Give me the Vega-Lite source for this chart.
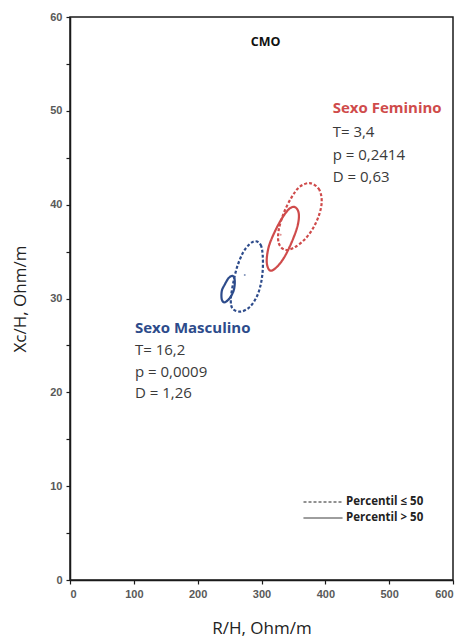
{
  "$schema": "https://vega.github.io/schema/vega-lite/v6.json",
  "width": 383,
  "height": 563,
  "autosize": {"type": "none"},
  "padding": {"left": 70, "top": 17, "right": 11, "bottom": 64},
  "background": "white",
  "config": {
    "view": {"stroke": "#1a1a1a", "strokeWidth": 1.5},
    "axis": {
      "grid": false,
      "domainColor": "#1a1a1a",
      "domainWidth": 1.5,
      "tickColor": "#1a1a1a",
      "tickWidth": 1.2,
      "tickSize": 4,
      "labelFont": "Liberation Sans",
      "labelFontWeight": "bold",
      "labelFontSize": 11,
      "labelColor": "#595959",
      "labelPadding": 4,
      "titleFont": "Open Sans",
      "titleFontWeight": "normal",
      "titleFontSize": 17,
      "titleColor": "#222222"
    }
  },
  "datasets": {
    "ellipses": [
      {"id": "FD", "sexo": "Feminino", "percentil": "Percentil ≤ 50", "i": 1, "x": 375.5, "y": 42.3},
      {"id": "FD", "sexo": "Feminino", "percentil": "Percentil ≤ 50", "i": 2, "x": 389.5, "y": 41.7},
      {"id": "FD", "sexo": "Feminino", "percentil": "Percentil ≤ 50", "i": 3, "x": 394.3, "y": 40.5},
      {"id": "FD", "sexo": "Feminino", "percentil": "Percentil ≤ 50", "i": 4, "x": 391.1, "y": 39.1},
      {"id": "FD", "sexo": "Feminino", "percentil": "Percentil ≤ 50", "i": 5, "x": 381.7, "y": 37.6},
      {"id": "FD", "sexo": "Feminino", "percentil": "Percentil ≤ 50", "i": 6, "x": 367.7, "y": 36.3},
      {"id": "FD", "sexo": "Feminino", "percentil": "Percentil ≤ 50", "i": 7, "x": 350.4, "y": 35.4},
      {"id": "FD", "sexo": "Feminino", "percentil": "Percentil ≤ 50", "i": 8, "x": 336.4, "y": 35.2},
      {"id": "FD", "sexo": "Feminino", "percentil": "Percentil ≤ 50", "i": 9, "x": 327.0, "y": 35.9},
      {"id": "FD", "sexo": "Feminino", "percentil": "Percentil ≤ 50", "i": 10, "x": 327.0, "y": 37.3},
      {"id": "FD", "sexo": "Feminino", "percentil": "Percentil ≤ 50", "i": 11, "x": 334.8, "y": 39.1},
      {"id": "FD", "sexo": "Feminino", "percentil": "Percentil ≤ 50", "i": 12, "x": 347.3, "y": 40.8},
      {"id": "FD", "sexo": "Feminino", "percentil": "Percentil ≤ 50", "i": 13, "x": 359.8, "y": 41.9},
      {"id": "FS", "sexo": "Feminino", "percentil": "Percentil > 50", "i": 1, "x": 352.0, "y": 39.75},
      {"id": "FS", "sexo": "Feminino", "percentil": "Percentil > 50", "i": 2, "x": 358.3, "y": 39.1},
      {"id": "FS", "sexo": "Feminino", "percentil": "Percentil > 50", "i": 3, "x": 356.7, "y": 37.8},
      {"id": "FS", "sexo": "Feminino", "percentil": "Percentil > 50", "i": 4, "x": 347.3, "y": 36.0},
      {"id": "FS", "sexo": "Feminino", "percentil": "Percentil > 50", "i": 5, "x": 334.8, "y": 34.3},
      {"id": "FS", "sexo": "Feminino", "percentil": "Percentil > 50", "i": 6, "x": 322.3, "y": 33.25},
      {"id": "FS", "sexo": "Feminino", "percentil": "Percentil > 50", "i": 7, "x": 312.9, "y": 33.0},
      {"id": "FS", "sexo": "Feminino", "percentil": "Percentil > 50", "i": 8, "x": 308.2, "y": 33.9},
      {"id": "FS", "sexo": "Feminino", "percentil": "Percentil > 50", "i": 9, "x": 311.3, "y": 35.5},
      {"id": "FS", "sexo": "Feminino", "percentil": "Percentil > 50", "i": 10, "x": 320.7, "y": 37.1},
      {"id": "FS", "sexo": "Feminino", "percentil": "Percentil > 50", "i": 11, "x": 331.7, "y": 38.5},
      {"id": "FS", "sexo": "Feminino", "percentil": "Percentil > 50", "i": 12, "x": 342.6, "y": 39.5},
      {"id": "MD", "sexo": "Masculino", "percentil": "Percentil ≤ 50", "i": 1, "x": 291.0, "y": 36.1},
      {"id": "MD", "sexo": "Masculino", "percentil": "Percentil ≤ 50", "i": 2, "x": 298.8, "y": 35.7},
      {"id": "MD", "sexo": "Masculino", "percentil": "Percentil ≤ 50", "i": 3, "x": 301.9, "y": 34.6},
      {"id": "MD", "sexo": "Masculino", "percentil": "Percentil ≤ 50", "i": 4, "x": 301.9, "y": 33.0},
      {"id": "MD", "sexo": "Masculino", "percentil": "Percentil ≤ 50", "i": 5, "x": 298.8, "y": 31.5},
      {"id": "MD", "sexo": "Masculino", "percentil": "Percentil ≤ 50", "i": 6, "x": 292.6, "y": 30.2},
      {"id": "MD", "sexo": "Masculino", "percentil": "Percentil ≤ 50", "i": 7, "x": 281.6, "y": 29.1},
      {"id": "MD", "sexo": "Masculino", "percentil": "Percentil ≤ 50", "i": 8, "x": 267.5, "y": 28.6},
      {"id": "MD", "sexo": "Masculino", "percentil": "Percentil ≤ 50", "i": 9, "x": 255.0, "y": 28.9},
      {"id": "MD", "sexo": "Masculino", "percentil": "Percentil ≤ 50", "i": 10, "x": 251.9, "y": 29.8},
      {"id": "MD", "sexo": "Masculino", "percentil": "Percentil ≤ 50", "i": 11, "x": 255.0, "y": 31.4},
      {"id": "MD", "sexo": "Masculino", "percentil": "Percentil ≤ 50", "i": 12, "x": 261.3, "y": 33.25},
      {"id": "MD", "sexo": "Masculino", "percentil": "Percentil ≤ 50", "i": 13, "x": 270.7, "y": 34.85},
      {"id": "MD", "sexo": "Masculino", "percentil": "Percentil ≤ 50", "i": 14, "x": 281.6, "y": 35.8},
      {"id": "MS", "sexo": "Masculino", "percentil": "Percentil > 50", "i": 1, "x": 255.0, "y": 32.4},
      {"id": "MS", "sexo": "Masculino", "percentil": "Percentil > 50", "i": 2, "x": 258.1, "y": 31.9},
      {"id": "MS", "sexo": "Masculino", "percentil": "Percentil > 50", "i": 3, "x": 256.6, "y": 30.9},
      {"id": "MS", "sexo": "Masculino", "percentil": "Percentil > 50", "i": 4, "x": 250.3, "y": 30.05},
      {"id": "MS", "sexo": "Masculino", "percentil": "Percentil > 50", "i": 5, "x": 242.5, "y": 29.6},
      {"id": "MS", "sexo": "Masculino", "percentil": "Percentil > 50", "i": 6, "x": 237.8, "y": 29.9},
      {"id": "MS", "sexo": "Masculino", "percentil": "Percentil > 50", "i": 7, "x": 237.8, "y": 30.8},
      {"id": "MS", "sexo": "Masculino", "percentil": "Percentil > 50", "i": 8, "x": 242.5, "y": 31.5},
      {"id": "MS", "sexo": "Masculino", "percentil": "Percentil > 50", "i": 9, "x": 248.8, "y": 32.2}
    ],
    "centers": [
      {"sexo": "Feminino", "x": 330.1, "y": 36.8},
      {"sexo": "Masculino", "x": 273.8, "y": 32.5}
    ],
    "headers": [
      {"sexo": "Feminino", "x": 411.5, "y": 50.3, "text": "Sexo Feminino"},
      {"sexo": "Masculino", "x": 101.7, "y": 26.86, "text": "Sexo Masculino"}
    ],
    "stats": [
      {"x": 411.5, "y": 47.74, "text": "T= 3,4"},
      {"x": 411.5, "y": 45.29, "text": "p = 0,2414"},
      {"x": 411.5, "y": 42.95, "text": "D = 0,63"},
      {"x": 101.7, "y": 24.51, "text": "T= 16,2"},
      {"x": 101.7, "y": 22.17, "text": "p = 0,0009"},
      {"x": 101.7, "y": 19.93, "text": "D = 1,26"}
    ],
    "title": [
      {"x": 306.6, "y": 57.3, "text": "CMO"}
    ]
  },
  "layer": [
    {
      "data": {"name": "ellipses"},
      "mark": {"type": "line", "interpolate": "cardinal-closed", "strokeWidth": 2.2},
      "encoding": {
        "x": {
          "field": "x", "type": "quantitative",
          "scale": {"domain": [0, 600], "nice": false, "zero": false},
          "axis": {
            "title": "R/H, Ohm/m",
            "values": [0, 50, 100, 150, 200, 250, 300, 350, 400, 450, 500, 550, 600],
            "labelExpr": "datum.value % 100 === 0 ? datum.label : ''",
            "titlePadding": 21
          }
        },
        "y": {
          "field": "y", "type": "quantitative",
          "scale": {"domain": [0, 60], "nice": false, "zero": false},
          "axis": {
            "title": "Xc/H, Ohm/m",
            "values": [0, 5, 10, 15, 20, 25, 30, 35, 40, 45, 50, 55, 60],
            "labelExpr": "datum.value % 10 === 0 ? datum.label : ''",
            "titlePadding": 20
          }
        },
        "color": {
          "field": "sexo", "type": "nominal",
          "scale": {"domain": ["Feminino", "Masculino"], "range": ["#cf4b4b", "#2d4b8b"]},
          "legend": null
        },
        "strokeDash": {
          "field": "percentil", "type": "nominal",
          "scale": {"domain": ["Percentil ≤ 50", "Percentil > 50"], "range": [[3, 2], [1, 0]]},
          "legend": {
            "orient": "none",
            "legendX": 233,
            "legendY": 477,
            "title": null,
            "symbolType": "stroke",
            "symbolSize": 1521,
            "symbolStrokeWidth": 1,
            "symbolStrokeColor": "#222222",
            "clipHeight": 16,
            "rowPadding": 0,
            "labelOffset": 3,
            "labelFont": "Open Sans",
            "labelFontWeight": "bold",
            "labelFontSize": 11.5,
            "labelColor": "#222222"
          }
        },
        "detail": {"field": "id"},
        "order": {"field": "i", "type": "quantitative"}
      }
    },
    {
      "data": {"name": "centers"},
      "mark": {"type": "point", "filled": true, "size": 4, "opacity": 0.6},
      "encoding": {
        "x": {"field": "x", "type": "quantitative"},
        "y": {"field": "y", "type": "quantitative"},
        "color": {"field": "sexo", "type": "nominal", "legend": null}
      }
    },
    {
      "data": {"name": "headers"},
      "mark": {"type": "text", "align": "left", "baseline": "middle", "font": "Open Sans", "fontWeight": "bold", "fontSize": 15},
      "encoding": {
        "x": {"field": "x", "type": "quantitative"},
        "y": {"field": "y", "type": "quantitative"},
        "text": {"field": "text"},
        "color": {"field": "sexo", "type": "nominal", "legend": null}
      }
    },
    {
      "data": {"name": "stats"},
      "mark": {"type": "text", "align": "left", "baseline": "middle", "font": "Open Sans", "fontSize": 15, "color": "#3a3a3a"},
      "encoding": {
        "x": {"field": "x", "type": "quantitative"},
        "y": {"field": "y", "type": "quantitative"},
        "text": {"field": "text"}
      }
    },
    {
      "data": {"name": "title"},
      "mark": {"type": "text", "align": "center", "baseline": "middle", "font": "Open Sans", "fontWeight": "bold", "fontSize": 12.5, "color": "#111111"},
      "encoding": {
        "x": {"field": "x", "type": "quantitative"},
        "y": {"field": "y", "type": "quantitative"},
        "text": {"field": "text"}
      }
    }
  ]
}
